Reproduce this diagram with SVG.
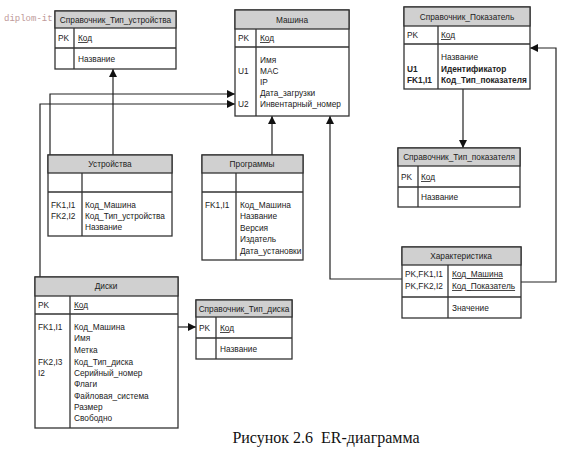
<svg xmlns="http://www.w3.org/2000/svg" width="571" height="460" viewBox="0 0 571 460">
<defs>
<marker id="arr" viewBox="0 0 10 10" refX="10" refY="5" markerWidth="8" markerHeight="8" markerUnits="userSpaceOnUse" orient="auto"><path d="M0,0 L10,5 L0,10 z" fill="#111"/></marker>
<style>
.frame{fill:#fff;stroke:#333;stroke-width:1.3}
.hdr{fill:#d0d0d0;stroke:#333;stroke-width:1.3}
.sep{stroke:#333;stroke-width:1.3}
text{font-family:"Liberation Sans",Arial,sans-serif;font-size:8.3px;fill:#222}
.h{text-anchor:middle}
.u{text-decoration:underline}
.b{font-weight:bold}
.conn{fill:none;stroke:#222;stroke-width:1.2}
</style>
</defs>
<rect width="571" height="460" fill="#fff"/>

<g id="connectors">
<path class="conn" d="M113,155 V69" marker-end="url(#arr)"/>
<path class="conn" d="M50,155 V94 H235" marker-end="url(#arr)"/>
<path class="conn" d="M40,277 V104 H235" marker-end="url(#arr)"/>
<path class="conn" d="M272,155 V116" marker-end="url(#arr)"/>
<path class="conn" d="M402,279 H330 V116" marker-end="url(#arr)"/>
<path class="conn" d="M521,282 H556 V48 H530" marker-end="url(#arr)"/>
<path class="conn" d="M463,89 V148" marker-end="url(#arr)"/>
<path class="conn" d="M178,327 H196" marker-end="url(#arr)"/>
</g>

<g id="sprav_tip_ustr">
<rect class="frame" x="55" y="11" width="121" height="58"/>
<rect class="hdr" x="55" y="11" width="121" height="17"/>
<line class="sep" x1="55" y1="48" x2="176" y2="48"/>
<line class="sep" x1="74" y1="28" x2="74" y2="69"/>
<text class="h" x="115.5" y="22.5">Справочник_Тип_устройства</text>
<text x="58" y="41">PK</text>
<text class="u" x="78" y="41">Код</text>
<text x="78" y="62">Название</text>
</g>

<g id="mashina">
<rect class="frame" x="235" y="10" width="114" height="106"/>
<rect class="hdr" x="235" y="10" width="114" height="19"/>
<line class="sep" x1="235" y1="47" x2="349" y2="47"/>
<line class="sep" x1="256" y1="29" x2="256" y2="116"/>
<text class="h" x="292" y="22.5">Машина</text>
<text x="238" y="41">PK</text>
<text class="u" x="260" y="41">Код</text>
<text x="260" y="63">Имя</text>
<text x="238" y="74">U1</text>
<text x="260" y="74">MAC</text>
<text x="260" y="85">IP</text>
<text x="260" y="96">Дата_загрузки</text>
<text x="238" y="107">U2</text>
<text x="260" y="107">Инвентарный_номер</text>
</g>

<g id="sprav_pokazatel">
<rect class="frame" x="404" y="7" width="126" height="82"/>
<rect class="hdr" x="404" y="7" width="126" height="19"/>
<line class="sep" x1="404" y1="44" x2="530" y2="44"/>
<line class="sep" x1="438" y1="26" x2="438" y2="89"/>
<text class="h" x="467" y="20">Справочник_Показатель</text>
<text x="407" y="38">PK</text>
<text class="u" x="441" y="38">Код</text>
<text x="441" y="60">Название</text>
<text class="b" x="407" y="72">U1</text>
<text class="b" x="441" y="72">Идентификатор</text>
<text class="b" x="407" y="83">FK1,I1</text>
<text class="b" x="441" y="83">Код_Тип_показателя</text>
</g>

<g id="sprav_tip_pokazatelya">
<rect class="frame" x="398" y="148" width="122" height="59"/>
<rect class="hdr" x="398" y="148" width="122" height="18"/>
<line class="sep" x1="398" y1="187" x2="520" y2="187"/>
<line class="sep" x1="418" y1="166" x2="418" y2="207"/>
<text class="h" x="459" y="160">Справочник_Тип_показателя</text>
<text x="401" y="180">PK</text>
<text class="u" x="421" y="180">Код</text>
<text x="421" y="200">Название</text>
</g>

<g id="harakteristika">
<rect class="frame" x="402" y="247" width="119" height="71"/>
<rect class="hdr" x="402" y="247" width="119" height="18"/>
<line class="sep" x1="402" y1="297" x2="521" y2="297"/>
<line class="sep" x1="448" y1="265" x2="448" y2="318"/>
<text class="h" x="461" y="259">Характеристика</text>
<text x="405" y="277">PK,FK1,I1</text>
<text class="u" x="452" y="277">Код_Машина</text>
<text x="405" y="289">PK,FK2,I2</text>
<text class="u" x="452" y="289">Код_Показатель</text>
<text x="452" y="311">Значение</text>
</g>

<g id="ustroistva">
<rect class="frame" x="48" y="155" width="124" height="81"/>
<rect class="hdr" x="48" y="155" width="124" height="18"/>
<line class="sep" x1="48" y1="192" x2="172" y2="192"/>
<line class="sep" x1="82" y1="173" x2="82" y2="236"/>
<text class="h" x="110" y="167">Устройства</text>
<text x="51" y="208">FK1,I1</text>
<text x="85" y="208">Код_Машина</text>
<text x="51" y="219">FK2,I2</text>
<text x="85" y="219">Код_Тип_устройства</text>
<text x="85" y="230">Название</text>
</g>

<g id="programmy">
<rect class="frame" x="202" y="155" width="101" height="105"/>
<rect class="hdr" x="202" y="155" width="101" height="18"/>
<line class="sep" x1="202" y1="192" x2="303" y2="192"/>
<line class="sep" x1="236" y1="173" x2="236" y2="260"/>
<text class="h" x="252" y="167">Программы</text>
<text x="205" y="208">FK1,I1</text>
<text x="240" y="208">Код_Машина</text>
<text x="240" y="219">Название</text>
<text x="240" y="231">Версия</text>
<text x="240" y="242">Издатель</text>
<text x="240" y="254">Дата_установки</text>
</g>

<g id="diski">
<rect class="frame" x="35" y="277" width="143" height="151"/>
<rect class="hdr" x="35" y="277" width="143" height="19"/>
<line class="sep" x1="35" y1="314" x2="178" y2="314"/>
<line class="sep" x1="70" y1="296" x2="70" y2="428"/>
<text class="h" x="106" y="289">Диски</text>
<text x="38" y="308">PK</text>
<text class="u" x="74" y="308">Код</text>
<text x="38" y="330">FK1,I1</text>
<text x="74" y="330">Код_Машина</text>
<text x="74" y="341">Имя</text>
<text x="74" y="353">Метка</text>
<text x="38" y="365">FK2,I3</text>
<text x="74" y="365">Код_Тип_диска</text>
<text x="38" y="376">I2</text>
<text x="74" y="376">Серийный_номер</text>
<text x="74" y="387">Флаги</text>
<text x="74" y="399">Файловая_система</text>
<text x="74" y="410">Размер</text>
<text x="74" y="421">Свободно</text>
</g>

<g id="sprav_tip_diska">
<rect class="frame" x="196" y="300" width="96" height="59"/>
<rect class="hdr" x="196" y="300" width="96" height="17"/>
<line class="sep" x1="196" y1="338" x2="292" y2="338"/>
<line class="sep" x1="216" y1="317" x2="216" y2="359"/>
<text class="h" x="244" y="311.5">Справочник_Тип_диска</text>
<text x="199" y="331">PK</text>
<text class="u" x="220" y="331">Код</text>
<text x="220" y="352">Название</text>
</g>

<text x="326" y="443" text-anchor="middle" xml:space="preserve" style="font-family:'Liberation Serif','Times New Roman',serif;font-size:16px;fill:#111">Рисунок 2.6  ER-диаграмма</text>

<text x="4" y="21" style="font-family:'Liberation Mono','Courier New',monospace;font-size:9px;fill:#c09a9a">diplom-it</text>
</svg>
